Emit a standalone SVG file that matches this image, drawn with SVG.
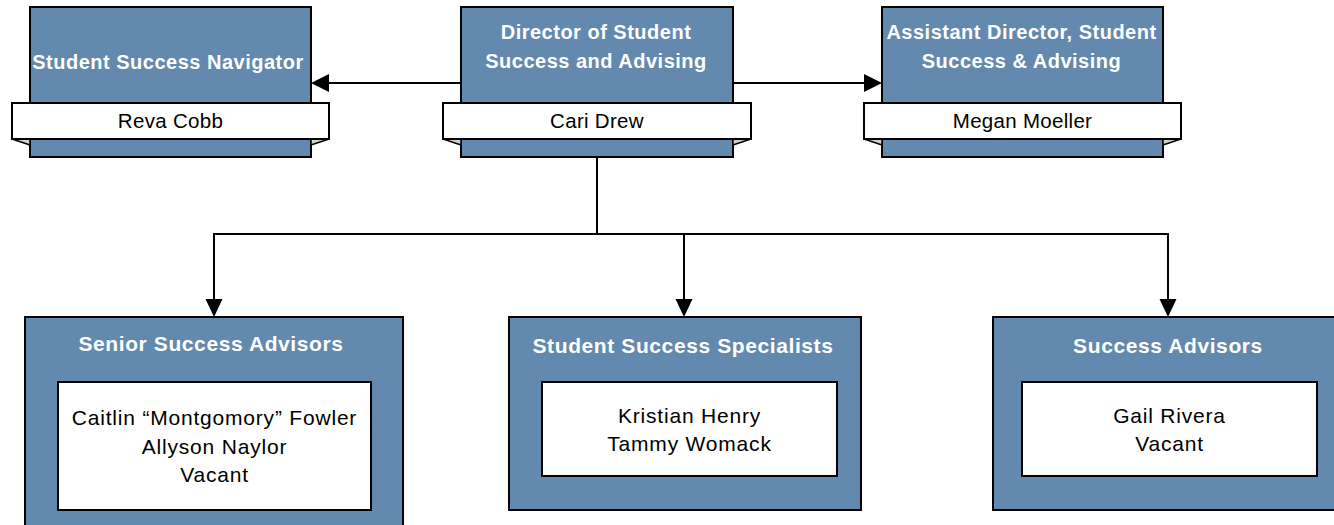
<svg xmlns="http://www.w3.org/2000/svg" width="1334" height="525" viewBox="0 0 1334 525">
<style>
.box{fill:#6389ae;stroke:#000;stroke-width:2}
.rib{fill:#fff;stroke:#000;stroke-width:2}
.fold{fill:#d0d0d0;stroke:#000;stroke-width:1.5;stroke-linejoin:round}
.inner{fill:#fff;stroke:#000;stroke-width:2}
.t{font-family:"Liberation Sans",Arial,sans-serif;font-weight:bold;fill:#fff;text-anchor:middle}
.tt{font-size:20px;letter-spacing:0.5px}
.tb{font-size:21px;letter-spacing:0.6px}
.n{font-family:"Liberation Sans",Arial,sans-serif;fill:#000;text-anchor:middle}
.nt{font-size:20.5px;letter-spacing:0.3px}
.nb{font-size:21px;letter-spacing:0.8px}
.c{fill:none;stroke:#000;stroke-width:2}
</style>
<rect width="1334" height="525" fill="#fff"/>
<g id="connectors">
<line class="c" x1="461" y1="83" x2="313" y2="83"/>
<path d="M311,83 L329,74 L329,92 Z" fill="#000"/>
<line class="c" x1="733" y1="83" x2="866" y2="83"/>
<path d="M882,83 L864,74 L864,92 Z" fill="#000"/>
<path class="c" d="M597,157 V234"/>
<path class="c" d="M214,299 V234 H1168 V299"/>
<path class="c" d="M684,234 V299"/>
<path d="M214,317 L205.5,299 L222.5,299 Z" fill="#000"/>
<path d="M684,317 L675.5,299 L692.5,299 Z" fill="#000"/>
<path d="M1168,317 L1159.5,299 L1176.5,299 Z" fill="#000"/>
</g>
<g id="navigator">
<rect class="box" x="30" y="7" width="281" height="150"/>
<path class="fold" d="M12,139 L30,145 L30,139 Z"/>
<path class="fold" d="M329,139 L311,145 L311,139 Z"/>
<rect class="rib" x="12" y="103" width="317" height="36"/>
<text class="t tt" x="168" y="69">Student Success Navigator</text>
<text class="n nt" x="170.5" y="128">Reva Cobb</text>
</g>
<g id="director">
<rect class="box" x="461" y="7" width="272" height="150"/>
<path class="fold" d="M443,139 L461,145 L461,139 Z"/>
<path class="fold" d="M751,139 L733,145 L733,139 Z"/>
<rect class="rib" x="443" y="103" width="308" height="36"/>
<text class="t tt" x="596" y="39">Director of Student</text>
<text class="t tt" x="596" y="68">Success and Advising</text>
<text class="n nt" x="597" y="128">Cari Drew</text>
</g>
<g id="assistant">
<rect class="box" x="882" y="7" width="281" height="150"/>
<path class="fold" d="M864,139 L882,145 L882,139 Z"/>
<path class="fold" d="M1181,139 L1163,145 L1163,139 Z"/>
<rect class="rib" x="864" y="103" width="317" height="36"/>
<text class="t tt" x="1021.5" y="39">Assistant Director, Student</text>
<text class="t tt" x="1021.5" y="68">Success &amp; Advising</text>
<text class="n nt" x="1022.5" y="128">Megan Moeller</text>
</g>
<g id="senior">
<rect class="box" x="25" y="317" width="378" height="220"/>
<text class="t tb" x="211" y="351">Senior Success Advisors</text>
<rect class="inner" x="58" y="382" width="313" height="128"/>
<text class="n nb" x="214.5" y="425">Caitlin “Montgomory” Fowler</text>
<text class="n nb" x="214.5" y="454">Allyson Naylor</text>
<text class="n nb" x="214.5" y="482">Vacant</text>
</g>
<g id="specialists">
<rect class="box" x="509" y="317" width="352" height="193"/>
<text class="t tb" x="683" y="353">Student Success Specialists</text>
<rect class="inner" x="542" y="382" width="295" height="94"/>
<text class="n nb" x="689.5" y="423">Kristian Henry</text>
<text class="n nb" x="689.5" y="451">Tammy Womack</text>
</g>
<g id="advisors">
<rect class="box" x="993" y="317" width="352" height="193"/>
<text class="t tb" x="1168" y="353">Success Advisors</text>
<rect class="inner" x="1022" y="382" width="295" height="94"/>
<text class="n nb" x="1169.5" y="423">Gail Rivera</text>
<text class="n nb" x="1169.5" y="451">Vacant</text>
</g>
</svg>
